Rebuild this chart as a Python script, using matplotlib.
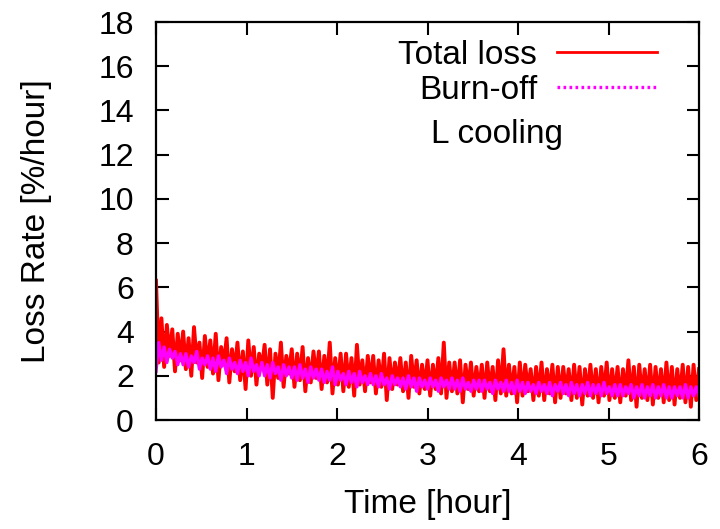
import numpy as np
import matplotlib
matplotlib.use("Agg")
import matplotlib.pyplot as plt
from matplotlib.lines import Line2D

plt.rcParams['font.family'] = ['Liberation Sans', 'DejaVu Sans']

total_loss = [
    6.3, 2.6, 4.6, 2.4, 4.3, 2.9, 4.1, 2.2, 3.9, 2.7,
    4.0, 2.3, 3.7, 2.0, 4.2, 2.6, 3.5, 1.9, 3.8, 2.4,
    3.6, 2.1, 3.9, 1.8, 3.3, 2.5, 3.7, 1.7, 3.2, 2.2,
    3.5, 1.8, 3.1, 1.4, 3.6, 2.0, 3.3, 1.6, 3.0, 2.3,
    3.4, 1.6, 3.2, 1.0, 3.0, 1.9, 3.5, 1.5, 2.9, 2.1,
    3.2, 1.5, 3.0, 1.8, 3.3, 1.3, 2.8, 1.7, 3.1, 1.9,
    3.1, 1.4, 2.9, 1.7, 3.5, 1.2, 2.8, 1.6, 3.0, 1.3,
    3.0, 1.5, 2.8, 1.1, 3.4, 1.6, 2.7, 1.3, 2.9, 1.7,
    2.9, 1.2, 2.7, 1.5, 3.0, 0.9, 2.8, 1.4, 2.6, 1.6,
    2.8, 1.3, 2.6, 1.0, 2.9, 1.5, 2.7, 1.2, 2.5, 1.4,
    2.7, 1.1, 2.5, 1.4, 2.8, 1.2, 3.5, 1.0, 2.6, 1.3,
    2.6, 1.2, 2.7, 0.8, 2.5, 1.4, 2.6, 1.1, 2.4, 1.3,
    2.5, 1.0, 2.6, 1.3, 2.4, 0.9, 2.7, 1.2, 3.2, 1.1,
    2.5, 1.2, 2.4, 0.8, 2.6, 1.1, 2.5, 1.3, 2.3, 0.9,
    2.4, 1.1, 2.6, 0.9, 2.3, 1.2, 2.5, 0.8, 2.4, 1.0,
    2.4, 1.2, 2.3, 0.9, 2.5, 1.0, 2.4, 0.7, 2.3, 1.1,
    2.5, 1.0, 2.3, 0.8, 2.4, 1.1, 2.6, 0.9, 2.3, 1.0,
    2.4, 0.8, 2.3, 1.1, 2.7, 0.9, 2.4, 0.6, 2.5, 1.0,
    2.3, 0.9, 2.5, 0.7, 2.4, 1.0, 2.3, 0.8, 2.6, 0.9,
    2.4, 0.7, 2.3, 1.0, 2.5, 0.8, 2.4, 0.6, 2.5, 0.9,
    2.3,
]

burn_off = [
    2.2, 3.5, 2.7, 3.3, 2.6, 3.2, 2.8, 3.1, 2.5, 3.0,
    2.5, 3.0, 2.4, 2.9, 2.6, 3.1, 2.3, 2.8, 2.5, 2.9,
    2.3, 2.8, 2.2, 2.9, 2.4, 2.7, 2.1, 2.8, 2.3, 2.6,
    2.1, 2.7, 2.2, 2.6, 2.0, 2.8, 2.2, 2.5, 2.0, 2.6,
    2.0, 2.5, 1.9, 2.6, 2.1, 2.4, 1.8, 2.5, 2.0, 2.4,
    1.9, 2.4, 1.8, 2.5, 1.9, 2.3, 1.7, 2.4, 1.9, 2.3,
    1.8, 2.3, 1.7, 2.2, 1.8, 2.4, 1.6, 2.2, 1.8, 2.1,
    1.6, 2.2, 1.7, 2.1, 1.5, 2.2, 1.7, 2.0, 1.6, 2.1,
    1.6, 2.0, 1.5, 2.1, 1.6, 1.9, 1.4, 2.0, 1.6, 1.9,
    1.5, 1.9, 1.4, 2.0, 1.5, 1.9, 1.3, 1.9, 1.5, 1.8,
    1.4, 1.9, 1.5, 1.8, 1.3, 1.9, 1.5, 1.8, 1.4, 1.9,
    1.4, 1.8, 1.3, 1.9, 1.4, 1.7, 1.3, 1.8, 1.4, 1.8,
    1.3, 1.8, 1.4, 1.7, 1.2, 1.8, 1.4, 1.7, 1.3, 1.8,
    1.3, 1.7, 1.2, 1.8, 1.3, 1.7, 1.2, 1.7, 1.3, 1.6,
    1.2, 1.7, 1.3, 1.6, 1.2, 1.7, 1.1, 1.6, 1.3, 1.7,
    1.2, 1.6, 1.1, 1.7, 1.2, 1.6, 1.1, 1.6, 1.2, 1.7,
    1.1, 1.6, 1.2, 1.6, 1.1, 1.7, 1.2, 1.5, 1.1, 1.6,
    1.1, 1.6, 1.1, 1.5, 1.2, 1.6, 1.0, 1.5, 1.1, 1.6,
    1.0, 1.5, 1.1, 1.6, 1.0, 1.5, 1.1, 1.6, 1.0, 1.5,
    1.0, 1.5, 1.1, 1.5, 1.0, 1.6, 1.0, 1.5, 1.1, 1.5,
    1.1,
]

t_start, t_end = 0.0, 6.0
time = np.linspace(t_start, t_end, len(total_loss))

x_ticks = [0, 1, 2, 3, 4, 5, 6]
y_ticks = [0, 2, 4, 6, 8, 10, 12, 14, 16, 18]

fig = plt.figure(figsize=(7.2, 5.29), dpi=100)
ax = fig.add_axes([156/720, (529-420)/529, (699-156)/720, (420-22)/529])

ax.plot(time, total_loss, color='#ff0000', lw=2.8, label='Total loss')
ax.plot(time, burn_off, color='#ff00ff', lw=2.4, label='Burn-off')

ax.set_xlim(0, 6)
ax.set_ylim(0, 18)
ax.set_xticks(x_ticks)
ax.set_yticks(y_ticks)
ax.tick_params(direction='in', length=9, width=1.5, top=True, right=True,
               labelsize=23)
ax.tick_params(axis='x', pad=16)
ax.tick_params(axis='y', pad=16)
for s in ax.spines.values():
    s.set_linewidth(1.6)

ax.set_xlabel('Time [hour]', fontsize=24, labelpad=12)
ax.set_ylabel('Loss Rate [%/hour]', fontsize=24, labelpad=33)

handles = [Line2D([], [], color='#ff0000', lw=2.0),
           Line2D([], [], color='#ff00ff', lw=2.4, ls=(0, (0.8, 1.0)))]
leg = ax.legend(handles, ['Total loss', 'Burn-off'], loc='upper right',
                bbox_to_anchor=((657-156)/543, (420-40)/398), frameon=False,
                fontsize=24, markerfirst=False, handlelength=3.0,
                handletextpad=0.6, labelspacing=0.12, borderaxespad=0.0,
                borderpad=0.0)
ax.text((497-156)/543, (420-134)/398, 'L cooling', transform=ax.transAxes,
        fontsize=24, ha='center', va='center')

fig.savefig('out.png', dpi=100)
